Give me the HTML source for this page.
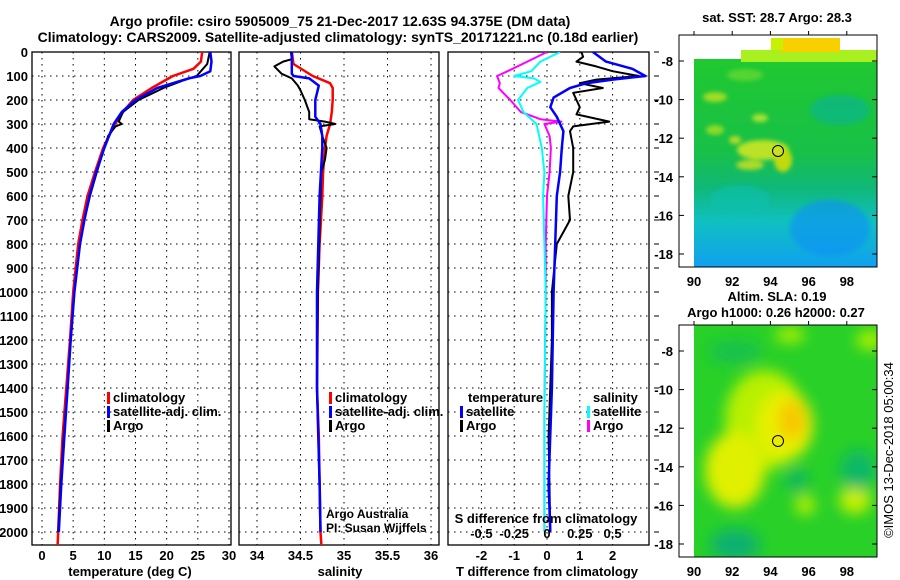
<!DOCTYPE html>
<html><head><meta charset="utf-8">
<style>
html,body{margin:0;padding:0;background:#fff;}
svg{display:block;font-family:"Liberation Sans",sans-serif;}
.t{font-weight:bold;font-size:13px;fill:#000;}
.ti{font-weight:bold;font-size:14px;fill:#000;}
</style></head>
<body>
<svg id="fig" width="900" height="580" viewBox="0 0 900 580">
<defs>
<clipPath id="c1"><rect x="32" y="52" width="199" height="493"/></clipPath>
<clipPath id="c2"><rect x="239" y="52" width="200" height="493"/></clipPath>
<clipPath id="c3"><rect x="448" y="52" width="201" height="493"/></clipPath>
<clipPath id="m1"><rect x="679" y="35" width="198" height="232"/></clipPath>
<clipPath id="m2"><rect x="679" y="325" width="198" height="232"/></clipPath>
<linearGradient id="sstg" x1="0" y1="0" x2="0" y2="1">
<stop offset="0" stop-color="#20c830"/><stop offset="0.45" stop-color="#18c048"/>
<stop offset="0.62" stop-color="#10b878"/><stop offset="0.78" stop-color="#10c0c0"/>
<stop offset="1" stop-color="#10a0f0"/></linearGradient>
<filter id="bl" x="-50%" y="-50%" width="200%" height="200%"><feGaussianBlur stdDeviation="7"/></filter>
<filter id="bl2" x="-50%" y="-50%" width="200%" height="200%"><feGaussianBlur stdDeviation="2"/></filter>
</defs>

<g>
<text class="ti" x="340" y="26" text-anchor="middle">Argo profile: csiro 5905009_75 21-Dec-2017 12.63S 94.375E (DM data)</text>
<text class="ti" x="338" y="42" text-anchor="middle">Climatology: CARS2009. Satellite-adjusted climatology: synTS_20171221.nc (0.18d earlier)</text>
</g>

<g id="p1"></g>
<g id="p2"></g>
<g id="p3"></g>

<g>
<text class="t" x="777" y="22" text-anchor="middle">sat. SST: 28.7 Argo: 28.3</text>
<g clip-path="url(#m1)">
<rect x="694" y="59" width="183" height="208" fill="url(#sstg)"/>
<rect x="741" y="50" width="136" height="12" fill="#a8f020"/>
<rect x="780" y="38" width="60" height="14" fill="#f8d000"/>
<rect x="771" y="38" width="12" height="12" fill="#c8f000"/>
<g filter="url(#bl2)" opacity="0.85">
<ellipse cx="763" cy="150" rx="26" ry="10" fill="#d8e820"/>
<ellipse cx="783" cy="160" rx="9" ry="12" fill="#e0e000"/>
<ellipse cx="750" cy="165" rx="14" ry="5" fill="#c8e020"/>
<ellipse cx="715" cy="130" rx="9" ry="5" fill="#a0e020"/>
<ellipse cx="715" cy="97" rx="12" ry="5" fill="#b8e020"/>
<ellipse cx="760" cy="118" rx="8" ry="4" fill="#c0e830"/>
<ellipse cx="735" cy="140" rx="6" ry="4" fill="#d0e020"/>
<ellipse cx="745" cy="75" rx="18" ry="6" fill="#60d830"/>
<ellipse cx="840" cy="110" rx="30" ry="15" fill="#10b880"/>
</g>
<g filter="url(#bl2)" opacity="0.6">
<ellipse cx="830" cy="228" rx="40" ry="28" fill="#1090f8"/>
<ellipse cx="740" cy="200" rx="30" ry="15" fill="#10c0b0"/>
</g>
</g>
<rect x="679" y="35" width="198" height="232" fill="none" stroke="#000"/>
<circle cx="778" cy="151" r="5.5" fill="#c8e020" stroke="#000"/>
</g>

<g>
<text class="t" x="777" y="301" text-anchor="middle">Altim. SLA: 0.19</text>
<text class="t" x="776" y="317" text-anchor="middle">Argo h1000: 0.26 h2000: 0.27</text>
<g clip-path="url(#m2)">
<rect x="694" y="325" width="183" height="232" fill="#28d028"/>
<g filter="url(#bl)">
<ellipse cx="765" cy="420" rx="40" ry="50" fill="#b8f000"/>
<ellipse cx="735" cy="470" rx="30" ry="38" fill="#e0f000"/>
<ellipse cx="785" cy="425" rx="28" ry="35" fill="#e8f000"/>
<ellipse cx="792" cy="420" rx="14" ry="20" fill="#f8c800"/>
<ellipse cx="855" cy="500" rx="16" ry="14" fill="#c8f000"/>
<ellipse cx="805" cy="505" rx="10" ry="10" fill="#b8f000"/>
<ellipse cx="870" cy="340" rx="14" ry="10" fill="#a8f000"/>
<ellipse cx="790" cy="335" rx="15" ry="8" fill="#a8f000"/>
<ellipse cx="735" cy="545" rx="25" ry="16" fill="#10b070"/>
<ellipse cx="858" cy="470" rx="18" ry="20" fill="#10b868"/>
<ellipse cx="797" cy="480" rx="12" ry="11" fill="#10b860"/>
<ellipse cx="735" cy="352" rx="26" ry="11" fill="#18c050"/>
</g>
</g>
<rect x="679" y="325" width="198" height="232" fill="none" stroke="#000"/>
<circle cx="778" cy="441" r="5.5" fill="none" stroke="#000"/>
<text x="893" y="450" transform="rotate(-90 893 450)" text-anchor="middle" style="font-size:13px">©IMOS 13-Dec-2018 05:00:34</text>
</g>
</svg>

<script>
// ---- data ----
const depthTicks = [0,100,200,300,400,500,600,700,800,900,1000,1100,1200,1300,1400,1500,1600,1700,1800,1900,2000];
const tempTicks = [0,5,10,15,20,25,30];
const salTicks = [34,34.5,35,35.5,36];
const tdTicks = [-2,-1,0,1,2];
const sdTicks = [-0.5,-0.25,0,0.25,0.5];

const tClimD = [0,40,70,100,150,200,250,300,400,500,600,700,800,1000,1200,1400,1600,1800,2000,2055];
const tClimV = [25.7,25.5,24.3,21,17.6,14.6,13,11.7,9.8,8.5,7.3,6.5,5.8,5,4.5,3.9,3.3,2.9,2.6,2.5];
const tSatD = [0,40,80,100,110,130,150,200,250,300,400,500,600,700,800,1000,1200,1400,1600,1800,2000];
const tSatV = [27,27.2,27,25.4,23.5,21,18.5,15,12.8,11.5,10,8.7,7.6,6.8,6.1,5.2,4.6,4.1,3.6,3.1,2.7];
const tArgoD = [0,50,80,100,120,150,200,250,290,300,310,350,400,500,600,700,800,1000,1200,1400,1600,1800,2000];
const tArgoV = [26.9,26.5,25.5,24.8,22.5,19.5,15.5,13,12.3,12.8,11.8,10.6,10,8.8,7.7,6.8,6.1,5.2,4.6,4.1,3.5,3.0,2.6];

const sClimD = [0,50,100,130,150,200,250,300,350,400,500,600,800,1000,1400,1600,2000,2055];
const sClimV = [34.40,34.42,34.64,34.84,34.87,34.87,34.86,34.84,34.80,34.78,34.76,34.75,34.72,34.70,34.69,34.71,34.73,34.74];
const sSatD = [0,90,100,110,140,200,270,300,350,400,600,1000,1400,1800,2000];
const sSatV = [34.40,34.40,34.42,34.60,34.71,34.67,34.67,34.73,34.75,34.75,34.72,34.69,34.69,34.72,34.73];
const sArgoD = [0,30,40,60,90,110,140,160,200,250,280,290,300,310,350,400,450,500,600,1000,1400,1800,2000];
const sArgoV = [34.39,34.40,34.30,34.20,34.28,34.40,34.47,34.50,34.55,34.60,34.60,34.78,34.90,34.72,34.75,34.80,34.78,34.74,34.73,34.70,34.69,34.72,34.73];

const dTSatD = [0,40,70,100,115,130,150,190,230,270,330,400,500,600,800,1000,1400,1800,2000];
const dTSatV = [1.4,1.8,2.6,3.0,2.0,1.2,0.7,0.2,0.1,0.3,0.5,0.45,0.4,0.3,0.25,0.2,0.15,0.05,0.1];
const dTArgoD = [0,20,40,60,80,100,115,130,150,170,200,230,260,290,310,330,400,500,600,700,800,1000,1200,1600,2000];
const dTArgoV = [1.05,1.1,0.9,1.5,2.0,2.8,1.5,1.0,1.7,0.8,0.9,1.0,0.9,1.9,0.8,0.7,0.8,0.8,0.65,0.7,0.3,0.15,0.15,0.05,0.1];
const dSSatD = [0,40,80,100,110,125,150,200,250,300,400,500,600,800,1000,1500,2000];
const dSSatV = [0.1,-0.05,-0.12,-0.25,-0.1,-0.05,-0.15,-0.22,-0.18,-0.08,-0.04,-0.02,-0.03,-0.02,-0.01,-0.02,-0.02];
const dSArgoD = [0,40,80,100,130,150,200,250,280,290,300,350,400,500,600,800,1000,1500,2000];
const dSArgoV = [0.0,-0.15,-0.3,-0.38,-0.36,-0.37,-0.28,-0.2,-0.05,0.11,-0.02,0.02,0.03,0.02,0.0,-0.01,-0.01,-0.02,-0.02];

// ---- axes ----
const NS = 'http://www.w3.org/2000/svg';
const yD = d => 52 + d * 0.24;
const xT = v => 42 + v * 6.233;
const xS = v => 257 + (v - 34) * 87;
const xDT = v => 547 + v * 32.8;
const xDS = v => 547 + v * 131.2;

function mk(tag, attrs, parent) {
  const e = document.createElementNS(NS, tag);
  for (const k in attrs) e.setAttribute(k, attrs[k]);
  parent.appendChild(e);
  return e;
}
function panel(g, x0, x1, xticks, xf) {
  depthTicks.forEach(d => {
    const l = mk('line', {x1:x0, x2:x1, y1:yD(d), y2:yD(d), stroke:'#000', 'stroke-dasharray':'1.5,4.5'}, g);
    
    
  });
  xticks.forEach(v => {
    const l = mk('line', {x1:xf(v), x2:xf(v), y1:52, y2:545, stroke:'#000', 'stroke-dasharray':'1.5,4.5'}, g);
    
    
  });
  const r = mk('rect', {x:x0, y:52, width:x1 - x0, height:493, fill:'none', stroke:'#000', 'stroke-width':1.3}, g);
  
  
}
function line(g, D, V, xf, color, w, clip, name) {
  const pts = D.map((d, i) => xf(V[i]).toFixed(1) + ',' + yD(d).toFixed(1)).join(' ');
  const p = mk('polyline', {points:pts, fill:'none', stroke:color, 'stroke-width':w, 'stroke-linejoin':'round', 'clip-path':'url(#' + clip + ')'}, g);
  
  
}
function txt(g, x, y, s, anchor, cls, name) {
  const t = mk('text', {x:x, y:y, 'text-anchor':anchor || 'start', class:cls || 't'}, g);
  t.textContent = s;
  
  
  return t;
}
function legend(g, x, y, color, label) {
  const m = mk('rect', {x:x, y:y - 10, width:3, height:12, fill:color}, g);
  
  
  txt(g, x + 6, y, label, 'start', 't', 'legend-entry');
}

// panel 1
const p1 = document.getElementById('p1');
panel(p1, 32, 231, tempTicks, xT);
depthTicks.forEach(d => txt(p1, 28, yD(d) + 5, String(d), 'end', 't', 'y-tick-label'));
tempTicks.forEach(v => txt(p1, xT(v), 560, String(v), 'middle', 't', 'x-tick-label'));
txt(p1, 130, 576, 'temperature (deg C)', 'middle', 't', 'x-axis-title');
line(p1, tClimD, tClimV, xT, '#f00', 2.5, 'c1', 'temp-climatology-line');
line(p1, tArgoD, tArgoV, xT, '#000', 2, 'c1', 'temp-argo-line');
line(p1, tSatD, tSatV, xT, '#00f', 2.5, 'c1', 'temp-satellite-line');
legend(p1, 107, 402, '#f00', 'climatology');
legend(p1, 107, 416, '#00f', 'satellite-adj. clim.');
legend(p1, 107, 430, '#000', 'Argo');

// panel 2
const p2 = document.getElementById('p2');
panel(p2, 239, 439, salTicks, xS);
salTicks.forEach(v => txt(p2, xS(v), 560, String(v), 'middle', 't', 'x-tick-label'));
txt(p2, 340, 576, 'salinity', 'middle', 't', 'x-axis-title');
line(p2, sClimD, sClimV, xS, '#f00', 2.5, 'c2', 'sal-climatology-line');
line(p2, sArgoD, sArgoV, xS, '#000', 2, 'c2', 'sal-argo-line');
line(p2, sSatD, sSatV, xS, '#00f', 2.5, 'c2', 'sal-satellite-line');
legend(p2, 329, 402, '#f00', 'climatology');
legend(p2, 329, 416, '#00f', 'satellite-adj. clim.');
legend(p2, 329, 430, '#000', 'Argo');
const a1 = txt(p2, 326, 518, 'Argo Australia', 'start', '', 'credit-argo-australia'); a1.setAttribute('style','font-size:12px');
const a2 = txt(p2, 326, 532, 'PI: Susan Wijffels', 'start', '', 'credit-pi'); a2.setAttribute('style','font-size:12px');

// panel 3
const p3 = document.getElementById('p3');
panel(p3, 448, 649, tdTicks, xDT);
depthTicks.forEach(d => {
  const l = mk('line', {x1:654, x2:659, y1:yD(d), y2:yD(d), stroke:'#000'}, p3);
  
  
});
tdTicks.forEach(v => txt(p3, xDT(v), 560, String(v), 'middle', 't', 'x-tick-label'));
txt(p3, 547, 576, 'T difference from climatology', 'middle', 't', 'x-axis-title');
line(p3, dSArgoD, dSArgoV, xDS, '#f0f', 2, 'c3', 'sal-diff-argo-line');
line(p3, dSSatD, dSSatV, xDS, '#0ff', 2, 'c3', 'sal-diff-satellite-line');
line(p3, dTArgoD, dTArgoV, xDT, '#000', 2, 'c3', 'temp-diff-argo-line');
line(p3, dTSatD, dTSatV, xDT, '#00f', 2.5, 'c3', 'temp-diff-satellite-line');
const sdl = ['-0.5','-0.25','0','0.25','0.5'];
sdTicks.forEach((v, i) => txt(p3, xDS(v), 538, sdl[i], 'middle', 't', 'secondary-x-tick-label'));
txt(p3, 546, 523, 'S difference from climatology', 'middle', 't', 'secondary-x-axis-title');
txt(p3, 468, 402, 'temperature', 'start', 't', 'legend-title-temperature');
legend(p3, 460, 416, '#00f', 'satellite');
legend(p3, 460, 430, '#000', 'Argo');
txt(p3, 593, 402, 'salinity', 'start', 't', 'legend-title-salinity');
legend(p3, 587, 416, '#0ff', 'satellite');
legend(p3, 587, 430, '#f0f', 'Argo');

// map axes
const fig = document.getElementById('fig');
const lonTicks = [90,92,94,96,98];
const latTicks = [-8,-10,-12,-14,-16,-18];
const xL = v => 694 + (v - 90) * 19.1;
[[61,35,267],[351,325,557]].forEach(([y8, top, bot]) => {
  const g = mk('g', {}, fig);
  
  
  latTicks.forEach(v => {
    const y = y8 + (-8 - v) * 19.3;
    mk('line', {x1:679, x2:684, y1:y, y2:y, stroke:'#000'}, g);
    mk('line', {x1:872, x2:877, y1:y, y2:y, stroke:'#000'}, g);
    txt(g, 673, y + 5, String(v), 'end', 't', 'map-lat-label');
  });
  lonTicks.forEach(v => {
    mk('line', {x1:xL(v), x2:xL(v), y1:top, y2:top - 4, stroke:'#000'}, g);
    txt(g, xL(v), bot + 19, String(v), 'middle', 't', 'map-lon-label');
  });
});
</script>
</body></html>
